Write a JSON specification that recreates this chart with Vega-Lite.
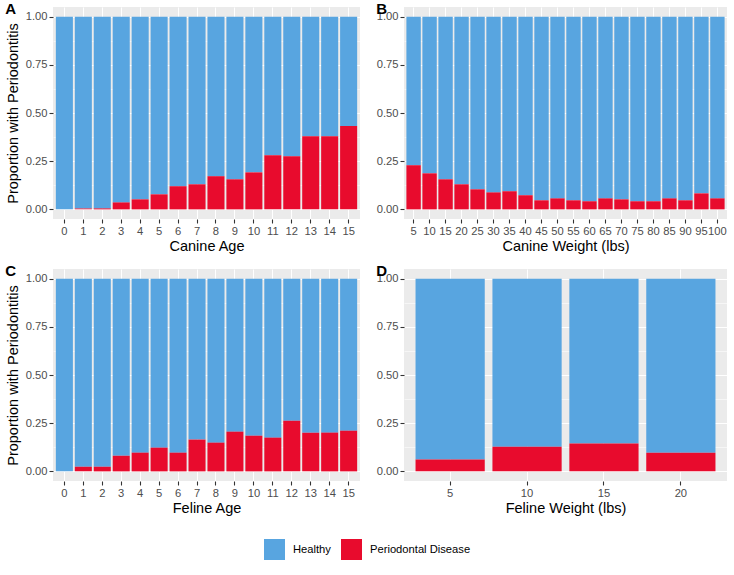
{
  "$schema": "https://vega.github.io/schema/vega-lite/v6.json",
  "background": "white",
  "padding": {"left": 5, "right": 5, "top": 2, "bottom": 5},
  "config": {
    "font": "Liberation Sans",
    "view": {"fill": "#EBEBEB", "stroke": null},
    "axis": {
      "domain": false,
      "tickColor": "#333333",
      "tickSize": 4,
      "tickWidth": 1.1,
      "labelColor": "#4D4D4D",
      "labelFontSize": 11.2,
      "labelFont": "Liberation Sans",
      "labelPadding": 2,
      "titleFontSize": 14.5,
      "titleFont": "Liberation Sans",
      "titleFontWeight": "normal",
      "titleColor": "#000000",
      "titlePadding": 3,
      "gridColor": "#FFFFFF",
      "gridWidth": 1.1,
      "gridOpacity": 1
    },
    "axisY": {"titlePadding": 5},
    "title": {"font": "Liberation Sans", "fontSize": 15, "fontWeight": "bold", "anchor": "start", "color": "#000000"},
    "legend": {"labelFont": "Liberation Sans", "labelFontSize": 11.2, "labelColor": "#000000"}
  },
  "datasets": {
    "A": [
      {"x": 0, "p": 0.0}, {"x": 1, "p": 0.005}, {"x": 2, "p": 0.005}, {"x": 3, "p": 0.036},
      {"x": 4, "p": 0.052}, {"x": 5, "p": 0.078}, {"x": 6, "p": 0.12}, {"x": 7, "p": 0.13},
      {"x": 8, "p": 0.172}, {"x": 9, "p": 0.156}, {"x": 10, "p": 0.192}, {"x": 11, "p": 0.281},
      {"x": 12, "p": 0.276}, {"x": 13, "p": 0.38}, {"x": 14, "p": 0.38}, {"x": 15, "p": 0.432}
    ],
    "B": [
      {"x": 5, "p": 0.229}, {"x": 10, "p": 0.187}, {"x": 15, "p": 0.156}, {"x": 20, "p": 0.13},
      {"x": 25, "p": 0.104}, {"x": 30, "p": 0.088}, {"x": 35, "p": 0.094}, {"x": 40, "p": 0.073},
      {"x": 45, "p": 0.047}, {"x": 50, "p": 0.057}, {"x": 55, "p": 0.047}, {"x": 60, "p": 0.042},
      {"x": 65, "p": 0.057}, {"x": 70, "p": 0.052}, {"x": 75, "p": 0.042}, {"x": 80, "p": 0.042},
      {"x": 85, "p": 0.057}, {"x": 90, "p": 0.047}, {"x": 95, "p": 0.083}, {"x": 100, "p": 0.057}
    ],
    "C": [
      {"x": 0, "p": 0.0}, {"x": 1, "p": 0.024}, {"x": 2, "p": 0.024}, {"x": 3, "p": 0.081},
      {"x": 4, "p": 0.097}, {"x": 5, "p": 0.123}, {"x": 6, "p": 0.097}, {"x": 7, "p": 0.165},
      {"x": 8, "p": 0.149}, {"x": 9, "p": 0.206}, {"x": 10, "p": 0.185}, {"x": 11, "p": 0.175},
      {"x": 12, "p": 0.263}, {"x": 13, "p": 0.201}, {"x": 14, "p": 0.201}, {"x": 15, "p": 0.211}
    ],
    "D": [
      {"x": 5, "p": 0.061}, {"x": 10, "p": 0.128}, {"x": 15, "p": 0.144}, {"x": 20, "p": 0.097}
    ]
  },
  "columns": 2,
  "spacing": {"row": 11, "column": 16},
  "resolve": {"scale": {"color": "shared", "x": "independent", "y": "independent"}, "legend": {"color": "shared"}},
  "concat": [
    {
      "width": 307, "height": 212,
      "title": {"text": "A", "offset": -10},
      "data": {"name": "A"},
      "resolve": {"axis": {"y": "independent"}},
      "layer": [
        {
          "mark": {"type": "bar"},
          "encoding": {
            "x": {"field": "x", "type": "ordinal", "scale": {"paddingInner": 0.1, "paddingOuter": 0.15}, "axis": {"title": "Canine Age", "labelAngle": 0, "labelOverlap": false, "grid": true}},
            "y": {"field": "p", "type": "quantitative", "scale": {"domain": [-0.05, 1.05], "nice": false, "zero": false}, "axis": {"title": "Proportion with Periodontitis", "values": [0, 0.25, 0.5, 0.75, 1], "format": ".2f", "grid": true}},
            "y2": {"datum": 1},
            "color": {"datum": "Healthy", "type": "nominal", "scale": {"domain": ["Healthy", "Periodontal Disease"], "range": ["#58A5E0", "#E80B2D"]}, "legend": {"title": null, "orient": "none", "legendX": 211, "legendY": 532, "direction": "horizontal", "symbolType": "square", "symbolSize": 441, "symbolStrokeWidth": 0, "symbolOpacity": 1, "columnPadding": 10, "labelOffset": 8}}
          }
        },
        {
          "mark": {"type": "bar"},
          "encoding": {
            "x": {"field": "x", "type": "ordinal"},
            "y": {"field": "p", "type": "quantitative", "axis": {"title": null, "orient": "left", "values": [0.125, 0.375, 0.625, 0.875], "labels": false, "ticks": false, "grid": true, "gridWidth": 0.55}},
            "y2": {"datum": 0},
            "color": {"datum": "Periodontal Disease", "type": "nominal"}
          }
        }
      ]
    },
    {
      "width": 323, "height": 212,
      "title": {"text": "B", "offset": -10},
      "data": {"name": "B"},
      "resolve": {"axis": {"y": "independent"}},
      "layer": [
        {
          "mark": {"type": "bar"},
          "encoding": {
            "x": {"field": "x", "type": "ordinal", "scale": {"paddingInner": 0.1, "paddingOuter": 0.15}, "axis": {"title": "Canine Weight (lbs)", "labelAngle": 0, "labelOverlap": false, "grid": true}},
            "y": {"field": "p", "type": "quantitative", "scale": {"domain": [-0.05, 1.05], "nice": false, "zero": false}, "axis": {"title": null, "values": [0, 0.25, 0.5, 0.75, 1], "format": ".2f", "grid": true}},
            "y2": {"datum": 1},
            "color": {"datum": "Healthy", "type": "nominal"}
          }
        },
        {
          "mark": {"type": "bar"},
          "encoding": {
            "x": {"field": "x", "type": "ordinal"},
            "y": {"field": "p", "type": "quantitative", "axis": {"title": null, "orient": "left", "values": [0.125, 0.375, 0.625, 0.875], "labels": false, "ticks": false, "grid": true, "gridWidth": 0.55}},
            "y2": {"datum": 0},
            "color": {"datum": "Periodontal Disease", "type": "nominal"}
          }
        }
      ]
    },
    {
      "width": 307, "height": 212,
      "title": {"text": "C", "offset": -10},
      "data": {"name": "C"},
      "resolve": {"axis": {"y": "independent"}},
      "layer": [
        {
          "mark": {"type": "bar"},
          "encoding": {
            "x": {"field": "x", "type": "ordinal", "scale": {"paddingInner": 0.1, "paddingOuter": 0.15}, "axis": {"title": "Feline Age", "labelAngle": 0, "labelOverlap": false, "grid": true}},
            "y": {"field": "p", "type": "quantitative", "scale": {"domain": [-0.05, 1.05], "nice": false, "zero": false}, "axis": {"title": "Proportion with Periodontitis", "values": [0, 0.25, 0.5, 0.75, 1], "format": ".2f", "grid": true}},
            "y2": {"datum": 1},
            "color": {"datum": "Healthy", "type": "nominal"}
          }
        },
        {
          "mark": {"type": "bar"},
          "encoding": {
            "x": {"field": "x", "type": "ordinal"},
            "y": {"field": "p", "type": "quantitative", "axis": {"title": null, "orient": "left", "values": [0.125, 0.375, 0.625, 0.875], "labels": false, "ticks": false, "grid": true, "gridWidth": 0.55}},
            "y2": {"datum": 0},
            "color": {"datum": "Periodontal Disease", "type": "nominal"}
          }
        }
      ]
    },
    {
      "width": 323, "height": 212,
      "title": {"text": "D", "offset": -10},
      "data": {"name": "D"},
      "resolve": {"axis": {"y": "independent"}},
      "layer": [
        {
          "mark": {"type": "bar"},
          "encoding": {
            "x": {"field": "x", "type": "ordinal", "scale": {"paddingInner": 0.1, "paddingOuter": 0.15}, "axis": {"title": "Feline Weight (lbs)", "labelAngle": 0, "labelOverlap": false, "grid": true}},
            "y": {"field": "p", "type": "quantitative", "scale": {"domain": [-0.05, 1.05], "nice": false, "zero": false}, "axis": {"title": null, "values": [0, 0.25, 0.5, 0.75, 1], "format": ".2f", "grid": true}},
            "y2": {"datum": 1},
            "color": {"datum": "Healthy", "type": "nominal"}
          }
        },
        {
          "mark": {"type": "bar"},
          "encoding": {
            "x": {"field": "x", "type": "ordinal"},
            "y": {"field": "p", "type": "quantitative", "axis": {"title": null, "orient": "left", "values": [0.125, 0.375, 0.625, 0.875], "labels": false, "ticks": false, "grid": true, "gridWidth": 0.55}},
            "y2": {"datum": 0},
            "color": {"datum": "Periodontal Disease", "type": "nominal"}
          }
        }
      ]
    }
  ]
}
